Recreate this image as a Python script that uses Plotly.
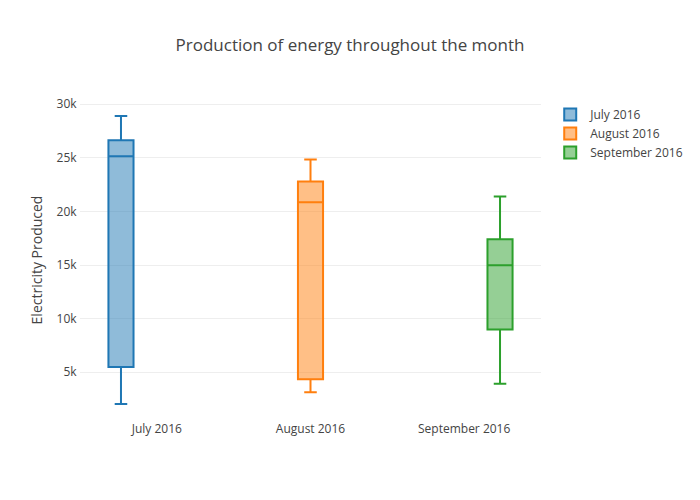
import plotly.graph_objects as go

months = ["July 2016", "August 2016", "September 2016"]
lower = [2040, 3130, 3940]
q1 = [5500, 4350, 8980]
median = [25150, 20860, 14980]
q3 = [26640, 22800, 17400]
upper = [28900, 24840, 21400]
colors = ["#1f77b4", "#ff7f0e", "#2ca02c"]

fig = go.Figure()
for i, m in enumerate(months):
    fig.add_trace(go.Box(
        name=m, x=[m], q1=[q1[i]], median=[median[i]], q3=[q3[i]],
        lowerfence=[lower[i]], upperfence=[upper[i]],
        marker_color=colors[i], line_color=colors[i],
    ))

fig.update_layout(
    width=700, height=500,
    template="none",
    boxmode="group",
    margin=dict(l=72, r=167, t=92, b=88),
    title=dict(text="Production of energy throughout the month", x=0.4886, xanchor="center",
               y=0.926, yanchor="middle", font=dict(size=17, color="#444")),
    yaxis=dict(title="Electricity Produced", gridcolor="#eee", zeroline=False, ticks="", linecolor="rgba(0,0,0,0)"),
    xaxis=dict(showgrid=False, ticks="", showline=False),
    font=dict(family="Open Sans", color="#444", size=12),
    paper_bgcolor="white", plot_bgcolor="white",
)
fig.write_html("out.html")
